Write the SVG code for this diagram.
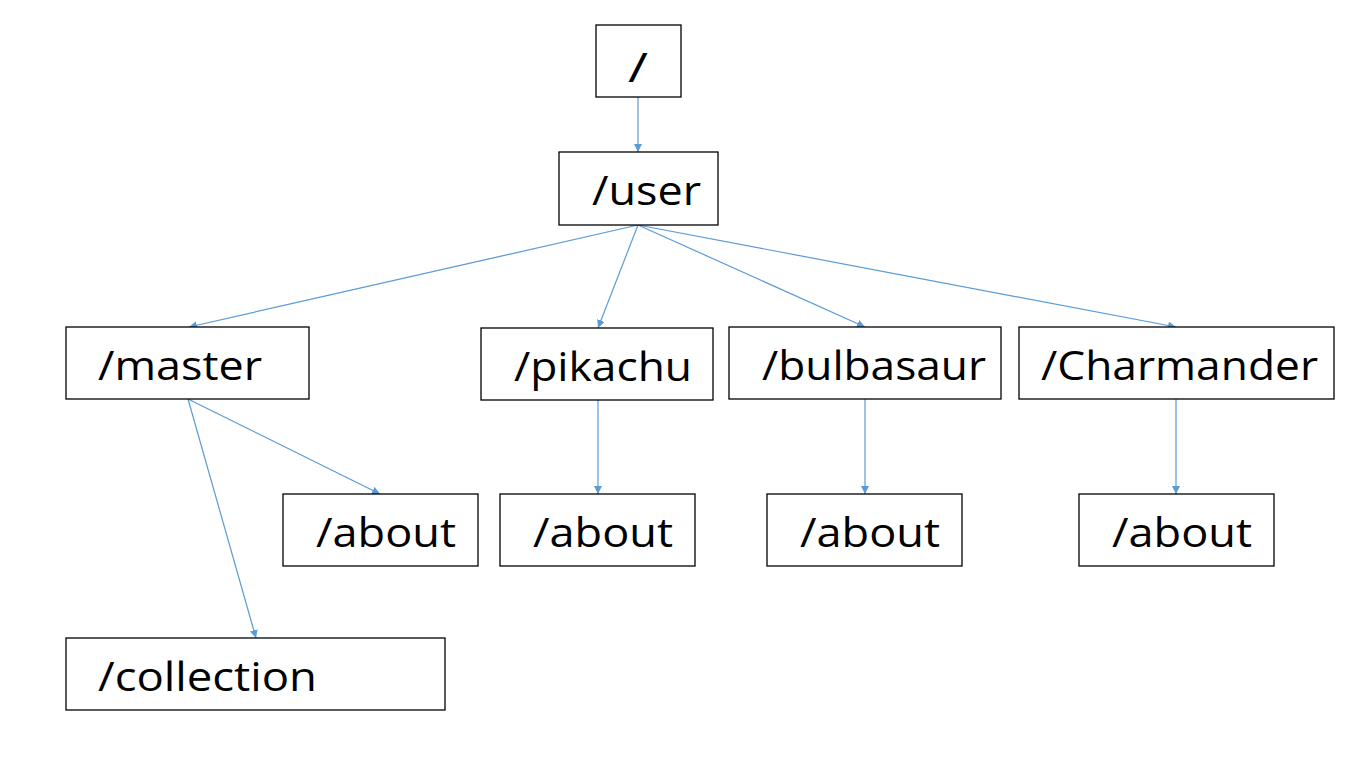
<svg xmlns="http://www.w3.org/2000/svg" width="1359" height="761" viewBox="0 0 1359 761">
<style>
.box{fill:#fff;stroke:#000;stroke-width:1.3}
.lbl{font-family:"Open Sans","Liberation Sans",sans-serif;font-size:40px;fill:#000}
.con{stroke:#5B9BD5;stroke-width:1.2;fill:none;marker-end:url(#ah)}
</style>
<defs>
<marker id="ah" viewBox="0 0 10 10" refX="10" refY="5" markerWidth="8" markerHeight="8" markerUnits="userSpaceOnUse" orient="auto">
<path d="M0,0 L10,5 L0,10 z" fill="#5B9BD5"/>
</marker>
</defs>
<rect width="1359" height="761" fill="#fff"/>
<g id="connectors">
<line class="con" x1="638" y1="97" x2="638" y2="152"/>
<line class="con" x1="638" y1="225" x2="189" y2="327"/>
<line class="con" x1="638" y1="225" x2="598" y2="328"/>
<line class="con" x1="638" y1="225" x2="865" y2="327"/>
<line class="con" x1="638" y1="225" x2="1176" y2="327"/>
<line class="con" x1="188" y1="399" x2="380" y2="494"/>
<line class="con" x1="188" y1="399" x2="256" y2="638"/>
<line class="con" x1="598" y1="400" x2="598" y2="494"/>
<line class="con" x1="865" y1="399" x2="865" y2="494"/>
<line class="con" x1="1176" y1="399" x2="1176" y2="494"/>
</g>
<g id="root"><rect class="box" x="596" y="25" width="85" height="72"/><text class="lbl" x="628" y="82" textLength="20" lengthAdjust="spacingAndGlyphs">/</text></g>
<g id="user"><rect class="box" x="559" y="152" width="159" height="73"/><text class="lbl" x="592" y="205" textLength="109" lengthAdjust="spacingAndGlyphs">/user</text></g>
<g id="master"><rect class="box" x="66" y="327" width="243" height="72"/><text class="lbl" x="98" y="380" textLength="164" lengthAdjust="spacingAndGlyphs">/master</text></g>
<g id="pikachu"><rect class="box" x="481" y="328" width="232" height="72"/><text class="lbl" x="514" y="381" textLength="178" lengthAdjust="spacingAndGlyphs">/pikachu</text></g>
<g id="bulbasaur"><rect class="box" x="729" y="327" width="272" height="72"/><text class="lbl" x="762" y="380" textLength="224" lengthAdjust="spacingAndGlyphs">/bulbasaur</text></g>
<g id="charmander"><rect class="box" x="1019" y="327" width="315" height="72"/><text class="lbl" x="1041" y="380" textLength="277" lengthAdjust="spacingAndGlyphs">/Charmander</text></g>
<g id="about-master"><rect class="box" x="283" y="494" width="195" height="72"/><text class="lbl" x="316" y="547" textLength="140" lengthAdjust="spacingAndGlyphs">/about</text></g>
<g id="about-pikachu"><rect class="box" x="500" y="494" width="195" height="72"/><text class="lbl" x="533" y="547" textLength="140" lengthAdjust="spacingAndGlyphs">/about</text></g>
<g id="about-bulbasaur"><rect class="box" x="767" y="494" width="195" height="72"/><text class="lbl" x="800" y="547" textLength="140" lengthAdjust="spacingAndGlyphs">/about</text></g>
<g id="about-charmander"><rect class="box" x="1079" y="494" width="195" height="72"/><text class="lbl" x="1112" y="547" textLength="140" lengthAdjust="spacingAndGlyphs">/about</text></g>
<g id="collection"><rect class="box" x="66" y="638" width="379" height="72"/><text class="lbl" x="98" y="691" textLength="219" lengthAdjust="spacingAndGlyphs">/collection</text></g>
</svg>
